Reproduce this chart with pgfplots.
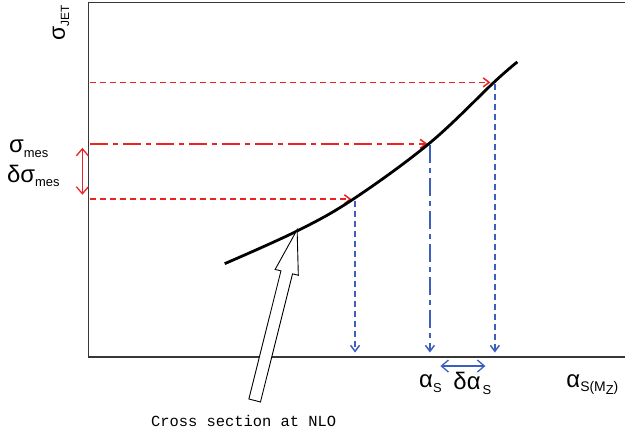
\documentclass[border=0pt]{standalone}
\usepackage{pgfplots}
\pgfplotsset{compat=1.18}
\usepackage{fontspec}
\setmainfont{Liberation Sans}
\newfontfamily\courier{Liberation Mono}
\usetikzlibrary{arrows.meta}
\definecolor{cred}{RGB}{235,35,35}
\definecolor{cblue}{RGB}{60,95,190}
\definecolor{cframe}{RGB}{55,55,55}
\newcommand{\bigf}{\fontsize{24}{24}\selectfont}
\newcommand{\sub}[1]{\raisebox{-0.35ex}{\fontsize{13}{13}\selectfont #1}}
\begin{document}
\begin{tikzpicture}
\begin{axis}[
  width=626bp, height=437bp, scale only axis,
  xmin=0, xmax=626, ymin=0, ymax=437, y dir=reverse,
  hide axis, clip=false,
]
\path (rel axis cs:0,0) rectangle (rel axis cs:1,1);
% frame
\addplot[color=cframe, line width=1.6bp] coordinates {(626,2.5) (88.5,2.5) (88.5,357.5) (626,357.5)};
% red horizontals
\addplot[color=cred, line width=1.5bp, dash pattern=on 6bp off 4bp, -{Straight Barb[length=6bp,width=9bp]}] coordinates {(90,82.5) (491,82.5)};
\addplot[color=cred, line width=1.6bp, dash pattern=on 18bp off 5bp on 5bp off 5bp, -{Straight Barb[length=6bp,width=9bp]}] coordinates {(90,144) (428,144)};
\addplot[color=cred, line width=1.5bp, dash pattern=on 6bp off 4bp, -{Straight Barb[length=6bp,width=9bp]}] coordinates {(90,199.5) (352,199.5)};
% blue verticals
\addplot[color=cblue, line width=1.5bp, dash pattern=on 6bp off 4bp, -{Straight Barb[length=6bp,width=9bp]}] coordinates {(495.5,84) (495.5,353)};
\addplot[color=cblue, line width=1.5bp, dash pattern=on 18bp off 5bp on 5bp off 5bp, -{Straight Barb[length=6bp,width=9bp]}] coordinates {(430.5,145) (430.5,353)};
\addplot[color=cblue, line width=1.5bp, dash pattern=on 6bp off 4bp, -{Straight Barb[length=6bp,width=9bp]}] coordinates {(355.5,201) (355.5,353)};
% curve
\addplot[color=black, line width=2.8bp, smooth, tension=0.6] coordinates {
(225,264) (297,231.5) (353.5,199.5) (430.5,143) (495,82) (518,62)};
% double arrows
\addplot[color=cred, line width=1.3bp, {Straight Barb[length=7bp,width=12bp]}-{Straight Barb[length=7bp,width=12bp]}] coordinates {(82.5,148) (82.5,195)};
\addplot[color=cblue, line width=1.3bp, {Straight Barb[length=7bp,width=12bp]}-{Straight Barb[length=7bp,width=12bp]}] coordinates {(441,366.5) (486,366.5)};
% hollow arrow
\addplot[color=black, line width=0.9bp, fill=white] coordinates {
(297.5,230) (298.7,275.6) (292.9,274.2) (260.8,402.5) (249.2,399.5) (281.3,271.2) (275.5,269.8) (297.5,230)} -- cycle;
% labels
\node[rotate=90, anchor=center] at (axis cs:61,23) {\fontsize{23}{23}\selectfont σ\raisebox{-0.35ex}{\fontsize{12}{12}\selectfont JET}};
\node[anchor=west, inner sep=0pt] at (axis cs:9,149) {\bigf σ\sub{mes}};
\node[anchor=west, inner sep=0pt] at (axis cs:7,176) {\bigf δσ\sub{mes}};
\node[anchor=center, inner sep=0pt] at (axis cs:431,384) {\bigf α\sub{S}};
\node[anchor=center, inner sep=0pt] at (axis cs:473,384) {\bigf δα\sub{\,S}};
\node[anchor=west, inner sep=0pt] at (axis cs:567,385) {\bigf α\raisebox{-0.35ex}{\fontsize{14}{14}\selectfont S(M\raisebox{-0.45ex}{\fontsize{13}{13}\selectfont Z})}};
\node[anchor=center, inner sep=0pt] at (axis cs:244,422) {\courier\fontsize{15.5}{15.5}\selectfont Cross section at NLO};
\end{axis}
\end{tikzpicture}
\end{document}
